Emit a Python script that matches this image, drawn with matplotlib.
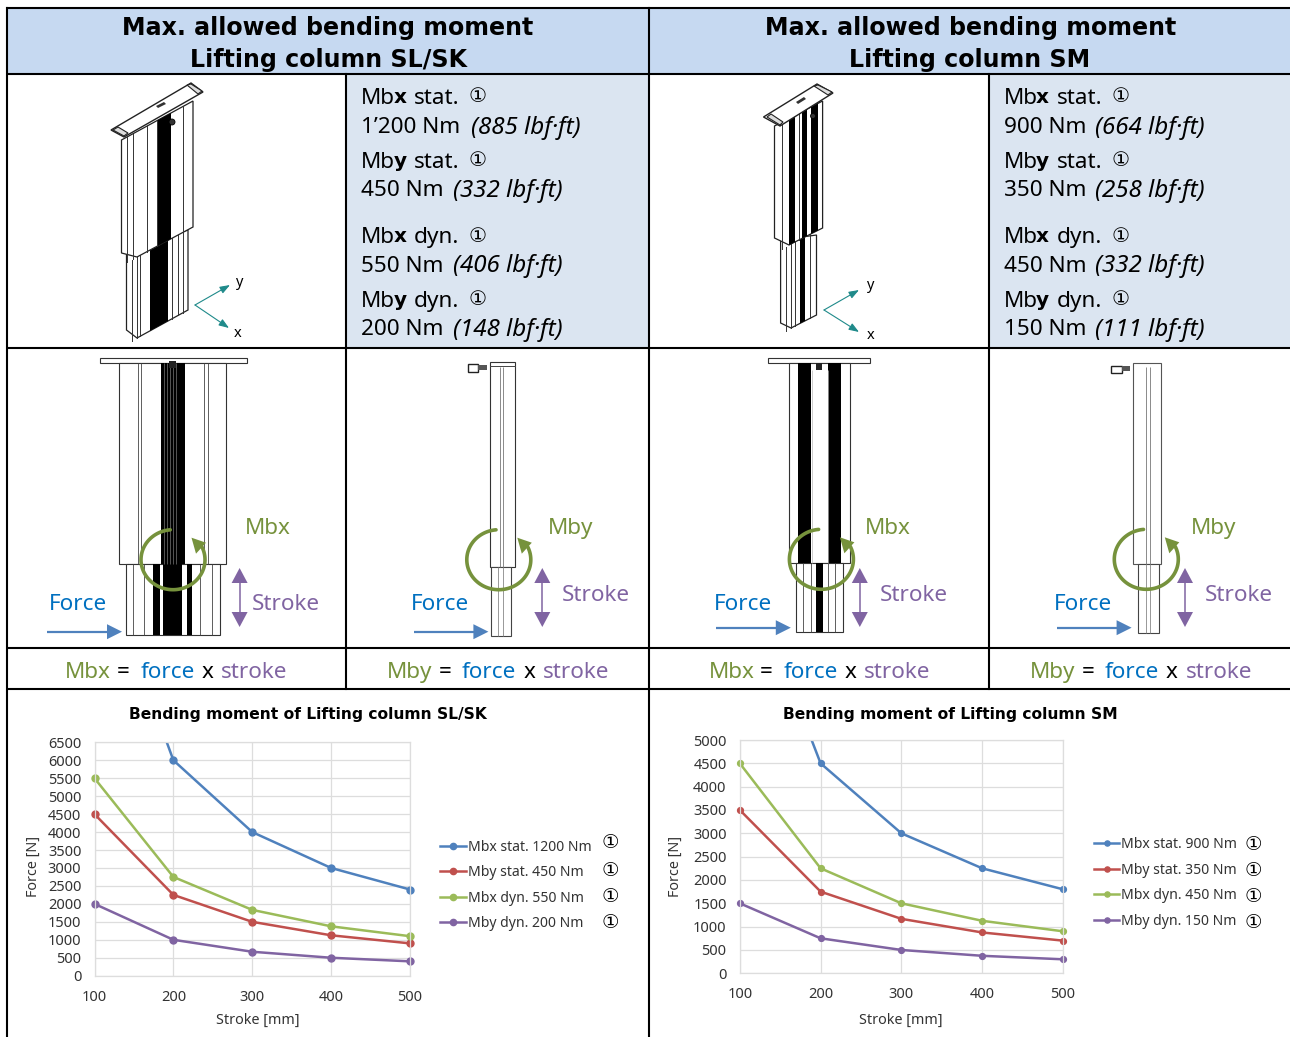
import numpy as np
import matplotlib
matplotlib.use("Agg")
import matplotlib.pyplot as plt
from matplotlib.patches import Rectangle, Polygon, Circle

W, H = 1290, 1037
FONT = ['Noto Sans', 'DejaVu Sans']
BOLD_FONT = ['DejaVu Sans']
CIRC_FONT = ['DejaVu Sans']
plt.rcParams['font.family'] = FONT

stroke = [100, 200, 300, 400, 500]
sl_mbx_stat = [12000, 6000, 4000, 3000, 2400]
sl_mby_stat = [4500, 2250, 1500, 1125, 900]
sl_mbx_dyn = [5500, 2750, 1833, 1375, 1100]
sl_mby_dyn = [2000, 1000, 667, 500, 400]
sm_mbx_stat = [9000, 4500, 3000, 2250, 1800]
sm_mby_stat = [3500, 1750, 1167, 875, 700]
sm_mbx_dyn = [4500, 2250, 1500, 1125, 900]
sm_mby_dyn = [1500, 750, 500, 375, 300]
sl_labels = ['Mbx stat. 1200 Nm', 'Mby stat. 450 Nm', 'Mbx dyn. 550 Nm', 'Mby dyn. 200 Nm']
sm_labels = ['Mbx stat. 900 Nm', 'Mby stat. 350 Nm', 'Mbx dyn. 450 Nm', 'Mby dyn. 150 Nm']
sl_yticks = list(range(0, 6501, 500))
sm_yticks = list(range(0, 5001, 500))
line_colors = ['#4F81BD', '#C0504D', '#9BBB59', '#8064A2']

GREEN, BLUE, PURPLE, ARROW = '#76923C', '#0070C0', '#8064A2', '#4F81BD'
TEAL = '#1F8A8A'
TICK = '#333333'

fig = plt.figure(figsize=(W / 100, H / 100), dpi=100, facecolor='white')
bg = fig.add_axes([0, 0, 1, 1])
bg.set_xlim(0, W)
bg.set_ylim(H, 0)
bg.axis('off')


def rect(x0, y0, x1, y1, fc='none', ec='none', lw=0.0, z=2):
    bg.add_patch(Rectangle((x0, y0), x1 - x0, y1 - y0, fc=fc, ec=ec, lw=lw, zorder=z))


def box(x0, y0, x1, y1, lw=0.8, ec='#333333', z=2):
    rect(x0, y0, x1, y1, fc='white', ec=ec, lw=lw, z=z)


def vlines(xs, y0, y1, lw=0.6, c='#444444', z=3):
    for x in xs:
        bg.plot([x, x], [y0, y1], color=c, lw=lw, zorder=z, solid_capstyle='butt')


def txt(x, y, s, size=13, color='black', weight='normal', style='normal', ha='left', family=None, z=6):
    """y is the middle of the capital letters, in pixels from the top."""
    bg.text(x, y + 0.36 * size * 100 / 72, s, fontsize=size, color=color, fontweight=weight, fontstyle=style,
            ha=ha, va='baseline', family=family or FONT, zorder=z)


def circ(x, y, size, ha='left'):
    bg.text(x, y, '①', fontsize=size, ha=ha, va='center', family=CIRC_FONT, zorder=6)


# ----- table fills and rules -----
rect(6, 8, 649, 74, fc='#C6D9F1', z=0)
rect(649, 8, W, 74, fc='#C6D9F1', z=0)
rect(346, 74, 649, 348, fc='#DBE5F1', z=0)
rect(989, 74, W, 348, fc='#DBE5F1', z=0)
LW = 1.5
for y in (8, 74, 348, 648, 689):
    bg.plot([6, W], [y, y], color='black', lw=LW, zorder=9, solid_capstyle='butt')
bg.plot([6.5, 6.5], [8, H], color='black', lw=LW, zorder=9)
bg.plot([649, 649], [8, H], color='black', lw=LW, zorder=9)
for x in (346, 989):
    bg.plot([x, x], [74, 689], color='black', lw=LW, zorder=9)

# ----- headers -----
HS = 17.1
txt(328, 26, 'Max. allowed bending moment', HS, weight='bold', ha='center', family=BOLD_FONT)
txt(328, 58.4, 'Lifting column SL/SK', HS, weight='bold', ha='center', family=BOLD_FONT)
txt(971, 26, 'Max. allowed bending moment', HS, weight='bold', ha='center', family=BOLD_FONT)
txt(970, 58.4, 'Lifting column SM', HS, weight='bold', ha='center', family=BOLD_FONT)

# ----- specification cells -----
YS = [(95.5, 124.8), (160, 188.4), (235, 263.5), (298.5, 327)]
spec_sl = [('x', 'stat.', '1’200 Nm', '(885 lbf·ft)', 471),
           ('y', 'stat.', '450 Nm', '(332 lbf·ft)', 453),
           ('x', 'dyn.', '550 Nm', '(406 lbf·ft)', 453),
           ('y', 'dyn.', '200 Nm', '(148 lbf·ft)', 453)]
spec_sm = [('x', 'stat.', '900 Nm', '(664 lbf·ft)', 1095),
           ('y', 'stat.', '350 Nm', '(258 lbf·ft)', 1095),
           ('x', 'dyn.', '450 Nm', '(332 lbf·ft)', 1095),
           ('y', 'dyn.', '150 Nm', '(111 lbf·ft)', 1095)]
SS = 16.2
for x0, spec in ((361, spec_sl), (1003.5, spec_sm)):
    for (y1, y2), (ax_, kind, val, imp, ix) in zip(YS, spec):
        txt(x0, y1, 'Mb', SS)
        txt(x0 + 32.5, y1, ax_, 14.5, weight='bold', family=BOLD_FONT)
        txt(x0 + 53, y1, kind, SS)
        circ(x0 + 108, y1 + 1, 14.5)
        txt(x0, y2, val, SS)
        txt(ix, y2, imp, 17.4, style='italic')


# ----- isometric views -----
def iso(plate, body, stripes, low, low_stripes, lines, low_lines, axes_xy):
    (tl, tr), (bl, apex, br) = body[:2], body[2:]
    top = lambda x: tl[1] + (x - tl[0]) * (tr[1] - tl[1]) / (tr[0] - tl[0])
    bot = lambda x: apex[1] + (x - apex[0]) * (br[1] - apex[1]) / (br[0] - apex[0])
    bg.add_patch(Polygon(plate, fc='white', ec='#222222', lw=1.0, zorder=5))
    bg.add_patch(Polygon([tl, tr, br, apex, bl], fc='white', ec='#222222', lw=0.9, zorder=3))
    for a, b in stripes:
        bg.add_patch(Polygon([(a, top(a)), (b, top(b)), (b, bot(b)), (a, bot(a))], fc='black', ec='none', zorder=4))
    for x in lines:
        bg.plot([x, x], [top(x), bot(x)], color='#333333', lw=0.7, zorder=4)
    l0, ltop, lbot, r0, rtop, rbot, ax0, ay0 = low
    lowbot = lambda x: ay0 + (x - ax0) * (rbot - ay0) / (r0 - ax0)
    bg.add_patch(Polygon([(l0, ltop), (r0, rtop), (r0, rbot), (ax0, ay0), (l0, lbot)], fc='white', ec='#222222', lw=0.9, zorder=2))
    for a, b in low_stripes:
        bg.add_patch(Polygon([(a, bot(a)), (b, bot(b)), (b, lowbot(b)), (a, lowbot(a))], fc='black', ec='none', zorder=2.5))
    for x in low_lines:
        bg.plot([x, x], [bot(x), lowbot(x)], color='#333333', lw=0.7, zorder=2.5)
    o, py, px, ly, lx = axes_xy
    for tip in (py, px):
        bg.annotate('', xy=tip, xytext=o, zorder=4,
                    arrowprops=dict(arrowstyle='-|>,head_width=0.22,head_length=0.6', color=TEAL, lw=0.8, shrinkA=0, shrinkB=0))
    txt(ly[0], ly[1], 'y', 10.5, ha='center')
    txt(lx[0], lx[1], 'x', 10.5, ha='center')


iso([(111, 130), (191, 83), (203, 92), (124, 137)],
    [(121.5, 140), (193, 101), (121.5, 253), (137, 257), (193, 227)],
    [(157.5, 171)], (126.5, 250, 330, 188, 230, 310, 137, 338),
    [(150, 168)], [127, 133, 147, 157, 183], [132, 137, 140, 172, 178, 183],
    ((195, 305), (230, 285), (229, 328), (239, 281), (238, 332)))
iso([(763.5, 117), (817, 84), (833, 93), (780, 126)],
    [(774.5, 126), (822.6, 101), (774.5, 238), (789, 245), (822.6, 228)],
    [(789, 795), (802, 807), (811, 818)], (780.6, 240, 323, 816.5, 235, 315, 791, 328),
    [(800, 805)], [782, 799], [786, 791, 795, 810],
    ((824, 310), (859, 290), (859, 332), (870, 284), (870.5, 334)))
# plate details: handles, slot, knob
for pts in ([(113, 130), (118, 127), (128, 133), (124, 136)], [(187, 85), (191, 84), (202, 91), (198, 94)],
            [(767, 117), (771, 114), (783, 122), (780, 125)], [(814, 86), (818, 85), (832, 92), (828, 95)]):
    bg.add_patch(Polygon(pts, fc='#DDDDDD', ec='#222222', lw=0.8, zorder=5.5))
for pts in ([(156, 106), (164, 102), (166, 104), (158, 108)], [(796, 102), (804, 97), (806, 99), (798, 104)]):
    bg.add_patch(Polygon(pts, fc='#333333', ec='none', zorder=5.5))
bg.add_patch(Circle((172, 122), 3, fc='#333333', ec='black', lw=0.6, zorder=5))
bg.add_patch(Circle((813, 116), 2.5, fc='#333333', ec='black', lw=0.6, zorder=5))


# ----- front and side views -----
def ring(cx, cy, rx=32, ry=30):
    th = np.radians(np.linspace(95, 385, 120))
    xs = cx + rx * np.cos(th)
    ys = cy - ry * np.sin(th)
    bg.plot(xs, ys, color=GREEN, lw=2.6, zorder=7, solid_capstyle='round')
    bg.add_patch(Polygon([(cx + 18.5, cy - 22), (cx + 33, cy - 17), (cx + 23, cy - 6)], fc=GREEN, ec='none', zorder=7))


def force_arrow(x0, x1, y):
    bg.plot([x0, x1 - 14], [y, y], color=ARROW, lw=1.6, zorder=7, solid_capstyle='butt')
    bg.add_patch(Polygon([(x1, y), (x1 - 15, y - 7.5), (x1 - 15, y + 7.5)], fc=ARROW, ec='none', zorder=7))


def stroke_arrow(x, y0=568, y1=627):
    bg.plot([x, x], [y0 + 12, y1 - 12], color=PURPLE, lw=1.1, zorder=7)
    for tip, base in ((y0, y0 + 15), (y1, y1 - 15)):
        bg.add_patch(Polygon([(x, tip), (x - 8, base), (x + 8, base)], fc=PURPLE, ec='none', zorder=7))


LS = 16.2
def labels(mb, mbx, fx, sx, sy, fy=601.7):
    txt(mbx, 525.5, mb, LS, color=GREEN)
    txt(fx, fy, 'Force', LS, color=BLUE)
    txt(sx, sy, 'Stroke', LS, color=PURPLE)


# SL front
box(99.5, 358, 246.7, 363)
box(119.4, 363, 226, 564)
box(125.6, 564, 220, 635)
rect(161, 363, 185, 564, fc='black', z=3)
vlines([164, 167, 170, 173, 176], 363, 564, c='#777777', lw=0.5, z=3.5)
vlines([137.6, 141, 204.4, 208], 363, 564)
rect(162.5, 564, 182.4, 635, fc='black', z=3)
rect(153, 564, 159.6, 635, fc='black', z=3)
rect(187, 564, 192.4, 635, fc='black', z=3)
vlines([132.5, 144, 200, 212], 564, 635)
rect(169, 361, 176, 368, fc='#222222', z=4)
ring(173, 559.7)
force_arrow(47, 122, 631.7)
stroke_arrow(239.6)
labels('Mbx', 245, 48.5, 252, 601.7)

# SL side
box(489.6, 362, 514.5, 567)
box(491.3, 567, 511, 636, ec='#444444')
vlines([499.5, 502.5], 367, 567, c='#777777')
vlines([498, 503], 567, 636, c='#888888')
bg.plot([489.6, 514.5], [366, 366], color='#444444', lw=0.7, zorder=3)
rect(467.7, 364, 478, 372, fc='white', ec='#222222', lw=1.0, z=3)
rect(478, 365, 487, 370, fc='#555555', z=3)
ring(498.8, 559.7)
force_arrow(413.8, 488.4, 631.7)
stroke_arrow(542.3)
labels('Mby', 547.5, 411, 562, 593)

# SM front
box(768.4, 358, 870.4, 363)
box(788.8, 363, 850, 562.7)
box(795.7, 562.7, 843, 632)
rect(797.8, 363, 810.8, 562.7, fc='black', z=3)
rect(828.4, 363, 841.4, 562.7, fc='black', z=3)
rect(816, 562.7, 823, 632, fc='black', z=3)
rect(816, 363, 822, 370, fc='#222222', z=3)
vlines([811.5, 828], 370, 562.7, c='#bbbbbb', lw=0.5)
vlines([803, 811, 828, 835], 562.7, 632)
ring(821.4, 559.3)
force_arrow(716, 790.8, 627.7)
stroke_arrow(859.8)
labels('Mbx', 865, 713.5, 879.5, 593)

# SM side
box(1133.3, 363.3, 1161.4, 564.3, ec='#555555')
box(1137.8, 564.3, 1159.4, 633, ec='#444444')
vlines([1146, 1150], 367, 564, c='#777777')
vlines([1146, 1150], 564, 633, c='#888888')
rect(1111, 366, 1122, 373, fc='white', ec='#222222', lw=1.0, z=3)
rect(1122, 366, 1130, 371, fc='#555555', z=3)
ring(1146.3, 559.3)
force_arrow(1057, 1131.6, 627.7)
stroke_arrow(1185)
labels('Mby', 1190.5, 1054, 1204.5, 593)

# ----- formula row -----
for mb, xs in (('Mbx', (65, 117, 141, 202, 221)), ('Mby', (387, 439, 462, 523.5, 543)),
               ('Mbx', (709, 760, 784, 845, 864)), ('Mby', (1030, 1082, 1105, 1166, 1185.5))):
    txt(xs[0], 669.5, mb, LS, color=GREEN)
    txt(xs[1], 669.5, '=', LS)
    txt(xs[2], 669.5, 'force', LS, color=BLUE)
    txt(xs[3], 669.5, 'x', LS)
    txt(xs[4], 669.5, 'stroke', LS, color=PURPLE)


# ----- charts -----
def chart(x0, x1, ytop, y0, ymax, yticks, series, names, title, tx, xlab, ylx, leg, msize, circles):
    ax = fig.add_axes([x0 / W, 1 - y0 / H, (x1 - x0) / W, (y0 - ytop) / H], facecolor='none')
    ax.set_zorder(3)
    ax.set_xlim(100, 500)
    ax.set_ylim(0, ymax)
    ax.set_xticks(stroke)
    ax.set_yticks(yticks)
    ax.grid(True, color='#DDDDDD', lw=0.9)
    ax.set_axisbelow(True)
    for sp in ax.spines.values():
        sp.set_color('#DDDDDD')
        sp.set_linewidth(0.9)
    ax.tick_params(length=0, labelsize=10.5, labelcolor=TICK)
    ax.tick_params(axis='x', pad=10)
    ax.tick_params(axis='y', pad=9.5)
    for vals, c in zip(series, line_colors):
        ax.plot(stroke, vals, color=c, lw=1.8, clip_on=True)
        ax.plot(stroke, vals, ls='none', marker='o', ms=msize, color=c, clip_on=False,
                markevery=[i for i, v in enumerate(vals) if v <= ymax])
    txt(tx, 713, title, 11.2, weight='bold', ha='center', family=BOLD_FONT)
    txt(xlab, 1019, 'Stroke [mm]', 10.3, color=TICK, ha='center')
    bg.text(ylx, 866, 'Force [N]', fontsize=10.3, color=TICK, ha='center', va='center', rotation=90, zorder=6)
    lx0, lx1, ltx, rows = leg
    for name, c, y in zip(names, line_colors, rows):
        bg.plot([lx0, lx1], [y, y], color=c, lw=1.8, zorder=6)
        bg.plot([(lx0 + lx1) / 2], [y], marker='o', ms=msize - 0.5, color=c, zorder=6)
        txt(ltx, y, name, 10.1, color=TICK)
    cx, cys = circles
    for y in cys:
        circ(cx, y + 1, 14, ha='center')
    return ax


chart(94.5, 410, 742.3, 975.7, 6500, sl_yticks, [sl_mbx_stat, sl_mby_stat, sl_mbx_dyn, sl_mby_dyn],
      sl_labels, 'Bending moment of Lifting column SL/SK', 308, 258, 33,
      (440, 466, 467.5, (846, 871, 896.5, 922)), 5.0, (610.5, (842, 870, 896, 922)))
chart(739.8, 1063, 740, 973.3, 5000, sm_yticks, [sm_mbx_stat, sm_mby_stat, sm_mbx_dyn, sm_mby_dyn],
      sm_labels, 'Bending moment of Lifting column SM', 950, 901, 675,
      (1094, 1119, 1121, (843, 869, 894, 919.5)), 4.2, (1253, (843, 869, 896, 922)))

fig.savefig('out.png', dpi=100, facecolor='white')
